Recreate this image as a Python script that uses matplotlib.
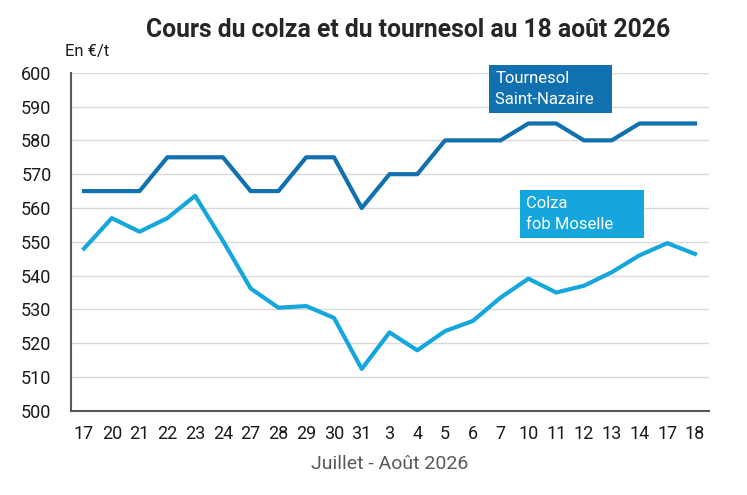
import matplotlib
matplotlib.use("Agg")
import matplotlib.pyplot as plt

days = ["17", "20", "21", "22", "23", "24", "27", "28", "29", "30", "31",
        "3", "4", "5", "6", "7", "10", "11", "12", "13", "14", "17", "18"]
tournesol = [565, 565, 565, 575, 575, 575, 565, 565, 575, 575, 560,
             570, 570, 580, 580, 580, 585, 585, 580, 580, 585, 585, 585]
colza = [548, 557, 553, 557, 563.6, 550.3, 536.2, 530.5, 531, 527.5, 512.4,
         523.2, 517.9, 523.6, 526.6, 533.5, 539.1, 535, 537, 541, 546, 549.6, 546.4]

DARK_BLUE = "#1170b0"
LIGHT_BLUE = "#14a6dc"

plt.rcParams["font.family"] = ["Roboto", "DejaVu Sans"]

fig = plt.figure(figsize=(7.47, 4.95), dpi=100)
ax = fig.add_axes([0.095, 0.170, 0.854, 0.683])

x = list(range(len(days)))
ax.plot(x, tournesol, color=DARK_BLUE, linewidth=3)
ax.plot(x, colza, color=LIGHT_BLUE, linewidth=3)

ax.set_ylim(500, 600)
ax.set_yticks(range(500, 601, 10))
ax.set_xlim(-0.47, 22.5)
ax.set_xticks(x)
ax.set_xticklabels(days)
ax.tick_params(axis="both", length=0, labelsize=13, colors="#1a1a1a")
ax.tick_params(axis="x", pad=10)
ax.tick_params(axis="y", pad=14)

ax.grid(axis="y", color="#d9d9d9", linewidth=1)
ax.set_axisbelow(True)
for side in ["top", "right"]:
    ax.spines[side].set_visible(False)
ax.spines["left"].set_color("#595959")
ax.spines["bottom"].set_color("#595959")
ax.spines["left"].set_linewidth(1.5)
ax.spines["bottom"].set_linewidth(1.5)

ax.set_xlabel("Juillet - Août 2026", fontsize=14, color="#595959", labelpad=9)

fig.text(0.546, 0.94, "Cours du colza et du tournesol au 18 août 2026",
         ha="center", va="center", fontsize=17.8, fontweight="bold", color="#262626")
fig.text(0.087, 0.895, "En €/t", ha="left", va="center", fontsize=12, color="#1a1a1a")

ax.text(0.665, 1.005, "Tournesol\nSaint-Nazaire   ", transform=ax.transAxes,
        ha="left", va="top", fontsize=12, color="white", linespacing=1.5,
        bbox=dict(boxstyle="square,pad=0.35", facecolor=DARK_BLUE, edgecolor="none"))
ax.text(0.713, 0.635, "Colza\nfob Moselle      ", transform=ax.transAxes,
        ha="left", va="top", fontsize=12, color="white", linespacing=1.5,
        bbox=dict(boxstyle="square,pad=0.35", facecolor=LIGHT_BLUE, edgecolor="none"))

fig.savefig("out.png", dpi=100, facecolor="white")
